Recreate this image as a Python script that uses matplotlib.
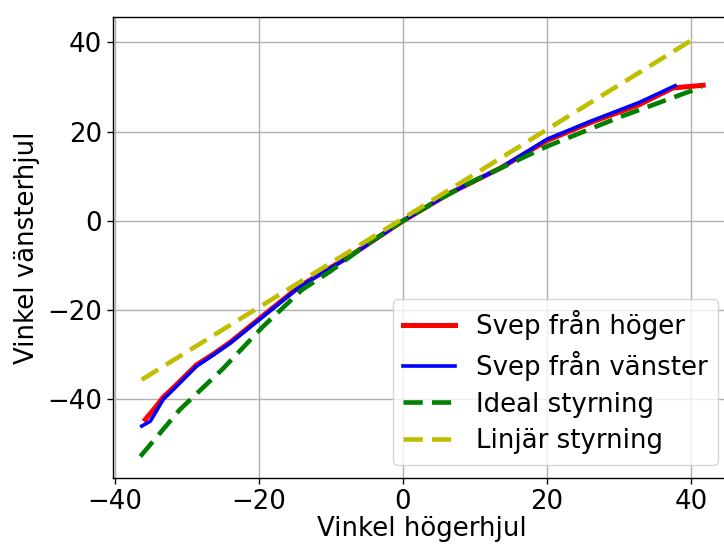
import numpy as np
import matplotlib
matplotlib.use("Agg")
import matplotlib.pyplot as plt

plt.rcParams['font.size'] = 18.7
plt.rcParams['axes.linewidth'] = 1.0
plt.rcParams['grid.linewidth'] = 1.0
plt.rcParams['xtick.major.size'] = 4.4
plt.rcParams['ytick.major.size'] = 4.4
plt.rcParams['xtick.major.width'] = 1.0
plt.rcParams['ytick.major.width'] = 1.0

# Svep från höger (avläst)
hoger_x = [-35.8, -34.5, -33.3, -31.9, -28.7, -26.3, -24.0, -21.7, -19.4, -14.3,
           -7.4, 0.0, 6.5, 13.5, 20.0, 26.0, 32.9, 37.5, 41.7]
hoger_y = [-44.5, -42.0, -39.5, -37.4, -32.3, -29.8, -27.2, -24.2, -21.2, -14.6,
           -7.9, 0.0, 6.2, 11.8, 18.0, 22.0, 26.1, 29.8, 30.4]

# Svep från vänster (avläst)
vanster_x = [-36.3, -35.1, -33.3, -31.9, -28.7, -26.3, -24.0, -21.7, -19.4, -14.3,
             -7.4, 0.0, 6.5, 13.5, 20.0, 26.0, 32.9, 37.8]
vanster_y = [-46.0, -44.9, -40.0, -37.8, -32.6, -30.0, -27.4, -24.4, -21.4, -14.7,
             -8.0, 0.0, 6.2, 11.8, 18.3, 22.3, 26.6, 30.3]

# Ideal styrning
ideal_x = [-36.5, -31.0, -25.0, -19.4, -14.0, -10.0, -5.0, 0.0, 5.0, 10.0, 20.0, 30.0, 41.5]
ideal_y = [-52.8, -42.3, -33.1, -23.6, -15.4, -11.2, -5.2, 0.0, 4.8, 9.1, 16.7, 23.2, 30.0]

# Linjär styrning
linjar_x = [-36.3, 40.8]
linjar_y = [-35.6, 41.2]

fig = plt.figure(figsize=(7.24, 5.48), dpi=100)
ax = fig.add_axes([0.156, 0.128, 0.854, 0.841])

ax.plot(hoger_x, hoger_y, color='r', linewidth=3.6, label='Svep från höger')
ax.plot(vanster_x, vanster_y, color='b', linewidth=2.6, label='Svep från vänster')
ax.plot(ideal_x, ideal_y, '--', color='g', linewidth=3.3, dashes=(4.2, 2.0),
        label='Ideal styrning')
ax.plot(linjar_x, linjar_y, '--', color='y', linewidth=3.3, dashes=(4.2, 2.0),
        label='Linjär styrning')

ax.set_xlim(-40.3, 45.6)
ax.set_ylim(-57.6, 45.7)
ax.set_xticks([-40, -20, 0, 20, 40])
ax.set_yticks([-40, -20, 0, 20, 40])
ax.set_xlabel('Vinkel högerhjul', labelpad=1)
ax.set_ylabel('Vinkel vänsterhjul', labelpad=5)
ax.grid(True)
ax.legend(loc='lower right', labelspacing=0.42)

fig.savefig('out.png', dpi=100)
